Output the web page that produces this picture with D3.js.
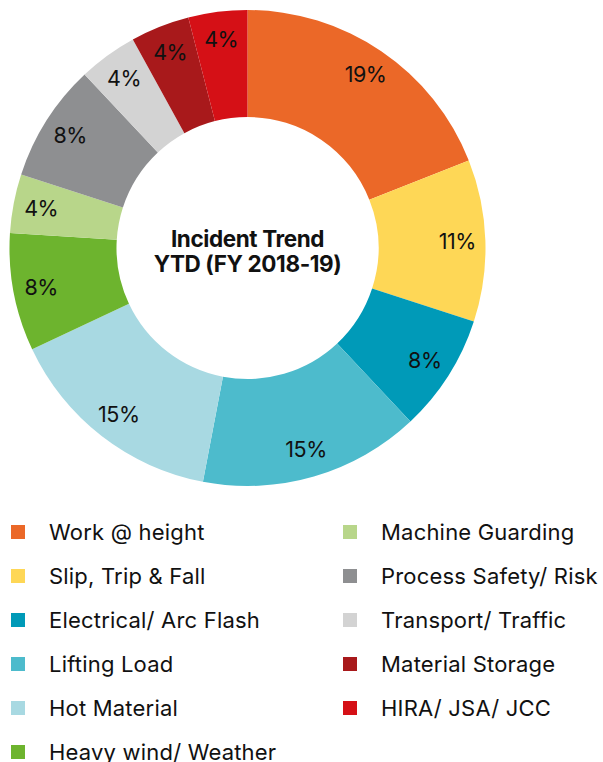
<!DOCTYPE html>
<html>
<head>
<meta charset="utf-8">
<script src="https://cdn.jsdelivr.net/npm/d3@7"></script>
<style>
  body { margin: 0; background: #fff; }
  text { font-family: Inter, "Noto Sans", sans-serif; fill: #111; }
</style>
</head>
<body>
<div class="chart"></div>
<script>
var width = 603,
    height = 762;

// data
var categories = ["Work @ height", "Slip, Trip & Fall", "Electrical/ Arc Flash", "Lifting Load",
                  "Hot Material", "Heavy wind/ Weather", "Machine Guarding", "Process Safety/ Risk",
                  "Transport/ Traffic", "Material Storage", "HIRA/ JSA/ JCC"];
var shares = [19, 11, 8, 15, 15, 8, 4, 8, 4, 4, 4];
var colors = ["#eb6828", "#fed756", "#009ab8", "#4dbbcc", "#a8d9e2", "#6db42e",
              "#b8d68a", "#8e8f91", "#d3d3d3", "#a8191b", "#d51016"];
var titleLines = ["Incident Trend", "YTD (FY 2018-19)"];

var cx = 247.5, cy = 248,
    outerR = 238, innerR = 131, labelR = 210;

var svg = d3.select(".chart").append("svg")
    .attr("width", width)
    .attr("height", height);

var color = d3.scaleOrdinal().domain(categories).range(colors);

var pie = d3.pie().sort(null).value(function(d) { return d.value; });
var arc = d3.arc().innerRadius(innerR).outerRadius(outerR);
var labelArc = d3.arc().innerRadius(labelR).outerRadius(labelR);

var rows = categories.map(function(c, i) { return {name: c, value: shares[i]}; });

var g = svg.append("g").attr("transform", "translate(" + cx + "," + cy + ")");

var slices = g.selectAll(".slice")
    .data(pie(rows))
    .enter().append("g")
      .attr("class", "slice");

slices.append("path")
    .attr("d", arc)
    .style("fill", function(d) { return color(d.data.name); });

slices.append("text")
    .attr("transform", function(d) { return "translate(" + labelArc.centroid(d) + ")"; })
    .attr("text-anchor", "middle")
    .attr("dy", "0.36em")
    .style("font-size", "21.5px")
    .style("letter-spacing", "-0.5px")
    .text(function(d) { return d.data.value + "%"; });

// centre title
g.selectAll(".title")
    .data(titleLines)
    .enter().append("text")
      .attr("class", "title")
      .attr("text-anchor", "middle")
      .attr("y", function(d, i) { return -1 + i * 25; })
      .style("font-size", "22.5px")
      .style("font-weight", "bold")
      .style("letter-spacing", "-0.4px")
      .text(function(d) { return d; });

// legend, two columns
var perCol = 6;
var legend = svg.selectAll(".legend")
    .data(categories)
    .enter().append("g")
      .attr("class", "legend")
      .attr("transform", function(d, i) {
        var col = Math.floor(i / perCol), row = i % perCol;
        return "translate(" + (11 + col * 332) + "," + (532 + row * 44) + ")";
      });

legend.append("rect")
    .attr("x", 0)
    .attr("y", -7)
    .attr("width", 14)
    .attr("height", 14)
    .style("fill", function(d) { return color(d); });

legend.append("text")
    .attr("x", 38)
    .attr("dy", "0.36em")
    .style("font-size", "22px")
    .style("letter-spacing", "0.2px")
    .text(function(d) { return d; });
</script>
</body>
</html>
